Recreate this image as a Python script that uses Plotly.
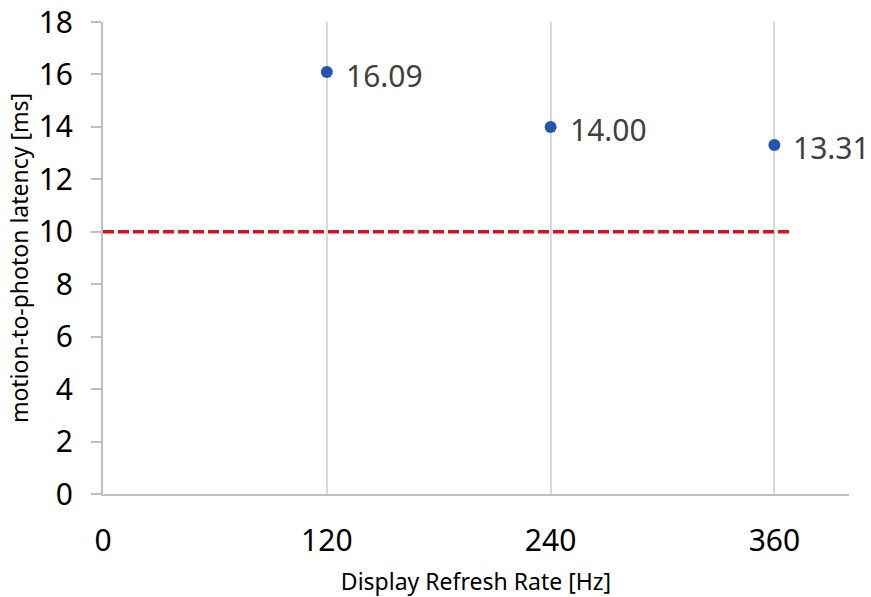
import plotly.graph_objects as go

refresh_rates = [120, 240, 360]
latency_ms = [16.09, 14.00, 13.31]
latency_labels = ["16.09", "14.00", "13.31"]
target_x = [0, 370]
target_y = [10, 10]
x_ticks = [0, 120, 240, 360]
y_ticks = [0, 2, 4, 6, 8, 10, 12, 14, 16, 18]

FONT = "Noto Sans"

fig = go.Figure()
fig.add_trace(go.Scatter(
    x=target_x, y=target_y, mode="lines",
    line=dict(color="#d3151b", width=3.5, dash="11px,4px"),
    hoverinfo="skip", showlegend=False))
fig.add_trace(go.Scatter(
    x=refresh_rates, y=latency_ms, mode="markers",
    marker=dict(color="#1f56b0", size=12),
    cliponaxis=False, showlegend=False))

for xv, yv, lab in zip(refresh_rates, latency_ms, latency_labels):
    fig.add_annotation(
        x=xv, y=yv, text=lab, showarrow=False,
        xanchor="left", yanchor="middle", xshift=17, yshift=-3,
        font=dict(family=FONT, size=30, color="#404040"))

fig.update_layout(
    width=871, height=597,
    margin=dict(l=103, r=22, t=22, b=103, autoexpand=False),
    paper_bgcolor="white", plot_bgcolor="white",
    font=dict(family=FONT, color="#000000"),
    xaxis=dict(
        range=[0, 400], tickvals=x_ticks, ticktext=[str(v) for v in x_ticks],
        showgrid=True, gridcolor="#d9d9d9", gridwidth=2,
        showline=True, linecolor="#bfbfbf", linewidth=2,
        zeroline=False, ticks="", ticklabelstandoff=19, automargin=False,
        tickfont=dict(family=FONT, size=30, color="#000000"),
        title=dict(text="Display Refresh Rate [Hz]", standoff=17,
                   font=dict(family=FONT, size=23, color="#000000")),
    ),
    yaxis=dict(
        range=[0, 18], tickvals=y_ticks, automargin=False,
        showgrid=False, showline=True, linecolor="#bfbfbf", linewidth=2,
        zeroline=False, ticks="outside", ticklen=10, tickcolor="#bfbfbf", tickwidth=2,
        ticklabelstandoff=12,
        tickfont=dict(family=FONT, size=30, color="#000000"),
        title=dict(text="motion-to-photon latency [ms]", standoff=4,
                   font=dict(family=FONT, size=23, color="#000000")),
    ),
)

fig.write_html("out.html", config={"displayModeBar": False},
               post_script="document.body.style.margin='0';")
